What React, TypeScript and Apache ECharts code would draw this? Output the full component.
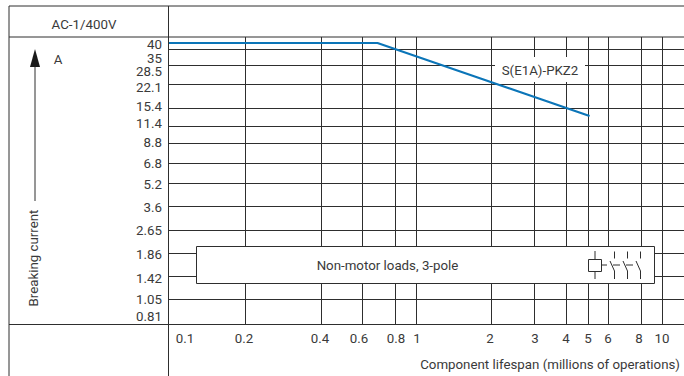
import React, { useEffect, useRef } from "react";
import * as echarts from "echarts";

const FONT = "Roboto, 'Open Sans', sans-serif";
const FONT_SIZE = 13.3;
const TEXT = "#3a3a3a";
const RULE = "#2e2e2e";

// Axis ranges (millions of operations / amperes)
const xRange = [0.09768, 12.29];
const yRange = [0.7167, 43.58];

// Printed tick texts and where the printed scale places them
const xTickLabels = ["0.1", "0.2", "0.4", "0.6", "0.8", "1", "2", "3", "4", "5", "6", "8", "10"];
const xLabelAnchors = [0.114, 0.1983, 0.4045, 0.5831, 0.825, 1.005, 1.992, 3.038, 4.064, 4.995, 6.026, 8.057, 10];
const yTickLabels = ["40", "35", "28.5", "22.1", "15.4", "11.4", "8.8", "6.8", "5.2", "3.6", "2.65", "1.86", "1.42", "1.05", "0.81"];
const yLabelAnchors = [39.15, 32.28, 26.62, 21.33, 16.26, 12.58, 9.59, 7.1, 5.26, 3.79, 2.73, 1.94, 1.373, 1.018, 0.798];

// Grid rules as printed
const xRules = [0.2012, 0.4102, 0.6026, 0.825, 1, 2.021, 3.024, 4.083, 5.018, 6.026, 8.214, 10];
const yRules = [36.72, 29.21, 22.11, 15.8, 12.22, 9.519, 7.203, 5.413, 3.87, 2.766, 1.978, 1.424, 1.032];

// S(E1A)-PKZ2 curve
const curveX = [0.09768, 0.6935, 5.07];
const curveY = [40, 40, 14.09];

const nearestLabel = (value: number, anchors: number[], labels: string[]) => {
  let best = 0;
  anchors.forEach((a, i) => {
    if (Math.abs(Math.log(a / value)) < Math.abs(Math.log(anchors[best] / value))) best = i;
  });
  return labels[best];
};

const rule = (x1: number, y1: number, x2: number, y2: number, width = 1) => ({
  type: "line",
  z: 6,
  silent: true,
  shape: { x1, y1, x2, y2 },
  style: { stroke: RULE, lineWidth: width },
});

const label = (text: string, x: number, y: number, extra: any = {}, el: any = {}) => ({
  type: "text",
  z: 7,
  silent: true,
  x,
  y,
  ...el,
  style: {
    text,
    fill: TEXT,
    font: `${FONT_SIZE}px ${FONT}`,
    align: "center",
    verticalAlign: "middle",
    ...extra,
  },
});

export default function App() {
  const ref = useRef<HTMLDivElement>(null);

  useEffect(() => {
    document.body.style.margin = "0";
    const chart = echarts.init(ref.current!, undefined, { renderer: "svg" });
    const axisBase = { axisLine: { show: false }, axisTick: { show: false }, splitLine: { show: false } };
    chart.setOption({
      animation: false,
      backgroundColor: "#ffffff",
      grid: { left: 168.5, right: 0, top: 37, bottom: 51.5 },
      xAxis: {
        type: "log",
        min: xRange[0],
        max: xRange[1],
        ...axisBase,
        axisLabel: {
          customValues: xLabelAnchors,
          formatter: (v: number) => nearestLabel(v, xLabelAnchors, xTickLabels),
          color: TEXT,
          fontFamily: FONT,
          fontSize: FONT_SIZE,
          margin: 7,
          hideOverlap: false,
          showMinLabel: true,
          showMaxLabel: true,
        },
      },
      yAxis: {
        type: "log",
        min: yRange[0],
        max: yRange[1],
        ...axisBase,
        axisLabel: {
          customValues: yLabelAnchors,
          formatter: (v: number) => nearestLabel(v, yLabelAnchors, yTickLabels),
          color: TEXT,
          fontFamily: FONT,
          fontSize: FONT_SIZE,
          margin: 6.5,
          lineHeight: 13,
          hideOverlap: false,
          showMinLabel: true,
          showMaxLabel: true,
        },
      },
      series: [
        {
          type: "line",
          name: "rules",
          z: 1,
          silent: true,
          data: [],
          symbol: "none",
          markLine: {
            z: 1,
            silent: true,
            symbol: "none",
            label: { show: false },
            animation: false,
            lineStyle: { color: RULE, width: 1, type: "solid" },
            data: [...xRules.map((xAxis) => ({ xAxis })), ...yRules.map((yAxis) => ({ yAxis }))],
          },
        },
        {
          type: "line",
          name: "S(E1A)-PKZ2",
          z: 4,
          silent: true,
          symbol: "none",
          lineStyle: { color: "#0b75b8", width: 2.2 },
          data: curveX.map((x, i) => [x, curveY[i]]),
        },
      ],
      graphic: {
        elements: [
          // frame
          rule(9, 6, 684, 6),
          rule(9, 37, 684, 37),
          rule(9, 324.5, 684, 324.5),
          rule(9, 6, 9, 376),
          rule(168.5, 6, 168.5, 376),
          // curve tag
          { type: "rect", z: 2, silent: true, shape: { x: 495, y: 57, width: 90, height: 25 }, style: { fill: "#ffffff" } },
          label("S(E1A)-PKZ2", 540, 70),
          // header and axis captions
          label("AC-1/400V", 84, 24),
          label("A", 58, 59),
          label("Breaking current", 0, 0, {}, { x: 33.5, y: 258, rotation: Math.PI / 2 }),
          label("Component lifespan (millions of operations)", 680, 364, { align: "right" }),
          // arrow of the y caption
          rule(35, 60, 35, 201),
          { type: "polygon", z: 6, silent: true, shape: { points: [[35, 49], [40, 67], [30, 67]] }, style: { fill: "#1a1a1a" } },
          // legend box
          { type: "rect", z: 5, silent: true, shape: { x: 196.5, y: 246.5, width: 458, height: 37 }, style: { fill: "#ffffff", stroke: RULE, lineWidth: 1 } },
          label("Non-motor loads, 3-pole", 387.5, 265),
          // coil symbol
          { type: "rect", z: 6, silent: true, shape: { x: 588.5, y: 259.5, width: 13, height: 12 }, style: { fill: "#ffffff", stroke: RULE, lineWidth: 1 } },
          rule(595, 251, 595, 259),
          rule(595, 272, 595, 279),
          rule(602, 265, 607, 265),
          // contacts
          ...[614.5, 627.5, 640.5].flatMap((x) => [
            rule(x, 251.5, x, 258.5),
            rule(x - 4.5, 261, x, 271),
            rule(x, 271, x, 279),
          ]),
          rule(613, 265, 620, 265),
          rule(626, 265, 633, 265),
        ],
      },
    });
    return () => chart.dispose();
  }, []);

  return <div ref={ref} style={{ width: 684, height: 376 }} />;
}
